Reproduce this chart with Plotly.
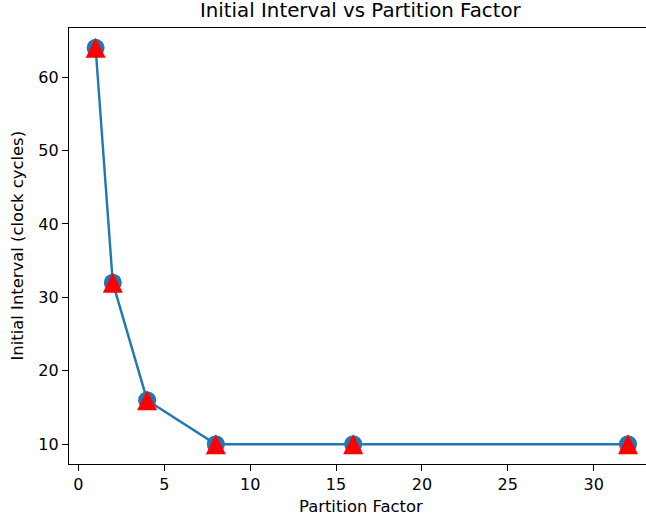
import plotly.graph_objects as go

partition_factor = [1, 2, 4, 8, 16, 32]
initial_interval = [64, 32, 16, 10, 10, 10]
x_ticks = [0, 5, 10, 15, 20, 25, 30]
y_ticks = [10, 20, 30, 40, 50, 60]

W, H = 646, 522
L, R, T, B = 69, 0, 28, 58
font = "DejaVu Sans"

fig = go.Figure()
fig.add_trace(go.Scatter(
    x=partition_factor, y=initial_interval, mode="lines+markers",
    line=dict(color="#1f77b4", width=2.4),
    marker=dict(symbol="circle", size=18, color="#1f77b4"),
    cliponaxis=False, showlegend=False))
fig.add_trace(go.Scatter(
    x=partition_factor, y=initial_interval, mode="markers",
    marker=dict(symbol="arrow-down", size=20, color="red", angle=180, standoff=10),
    cliponaxis=False, showlegend=False))

axis_common = dict(
    showgrid=False, zeroline=False, showline=True, linecolor="black", linewidth=1.2,
    ticks="outside", ticklen=6, tickwidth=1.2, tickcolor="black",
    tickfont=dict(family=font, size=16, color="black"))

fig.update_layout(
    width=W, height=H, margin=dict(l=L, r=R, t=T, b=B),
    paper_bgcolor="white", plot_bgcolor="white",
    xaxis=dict(range=[-0.55, 33.05], tickvals=x_ticks, mirror=True, **axis_common),
    yaxis=dict(range=[7.3, 66.7], tickvals=y_ticks, mirror=False, **axis_common),
    annotations=[
        dict(text="Initial Interval vs Partition Factor", xref="paper", yref="paper",
             x=0.506, y=1, yshift=4, xanchor="center", yanchor="bottom", showarrow=False,
             font=dict(family=font, size=19.8, color="black")),
        dict(text="Partition Factor", xref="paper", yref="paper",
             x=0.506, y=0, yshift=-31, xanchor="center", yanchor="top", showarrow=False,
             font=dict(family=font, size=16.4, color="black")),
        dict(text="Initial Interval (clock cycles)", xref="paper", yref="paper",
             x=0, xshift=-41, y=0.5, textangle=-90, xanchor="right", yanchor="middle",
             showarrow=False, font=dict(family=font, size=16.4, color="black")),
    ])

fig.write_html("out.html")
